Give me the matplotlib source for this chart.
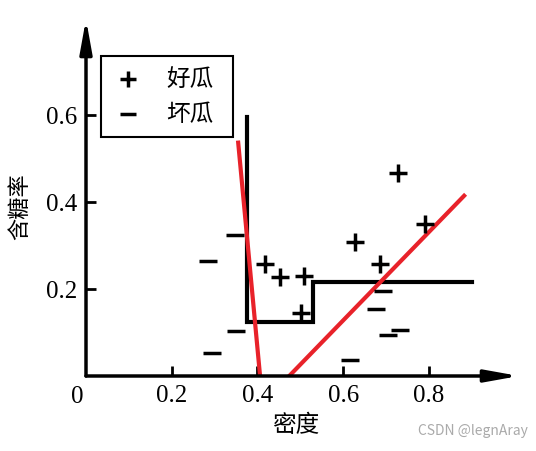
import matplotlib.pyplot as plt
import numpy as np

plt.rcParams['font.family'] = ['Noto Sans CJK SC', 'DejaVu Sans']

# good melons (+) and bad melons (-)
good_density = [0.728, 0.791, 0.628, 0.686, 0.418, 0.453, 0.509, 0.502]
good_sugar = [0.467, 0.349, 0.308, 0.257, 0.257, 0.228, 0.230, 0.145]
bad_density = [0.348, 0.285, 0.350, 0.294, 0.616, 0.693, 0.677, 0.705, 0.733]
bad_sugar = [0.324, 0.264, 0.103, 0.053, 0.037, 0.195, 0.154, 0.094, 0.106]

# decision tree boundary (axis-parallel steps)
step_x = [0.376, 0.376, 0.530, 0.530, 0.901]
step_y = [0.595, 0.124, 0.124, 0.216, 0.216]

# oblique red lines
red1_x = [0.355, 0.406]
red1_y = [0.536, 0.0]
red2_x = [0.474, 0.882]
red2_y = [0.0, 0.414]

ticks = [0.2, 0.4, 0.6, 0.8]
tick_labels = ['0.2', '0.4', '0.6', '0.8']
yticks = [0.2, 0.4, 0.6]
ytick_labels = ['0.2', '0.4', '0.6']

fig = plt.figure(figsize=(5.36, 4.52), dpi=100)
ax = fig.add_axes([86/536, 75/452, 433/536, 357/452])
ax.set_xlim(0, 1.01)
ax.set_ylim(0, 0.82)
for s in ax.spines.values():
    s.set_visible(False)

# axes with arrows
arrow = dict(arrowstyle='-|>,head_length=2.0,head_width=0.36', color='black',
             lw=2.5, mutation_scale=10, shrinkA=0, shrinkB=0)
ax.annotate('', xy=(1.01, 0), xytext=(0, 0), annotation_clip=False, arrowprops=arrow)
ax.annotate('', xy=(0, 0.82), xytext=(0, 0), annotation_clip=False, arrowprops=arrow)

serif = 'Liberation Serif'
ax.set_xticks(ticks)
ax.set_xticklabels(tick_labels, fontfamily=serif, fontsize=18)
ax.set_yticks(yticks)
ax.set_yticklabels(ytick_labels, fontfamily=serif, fontsize=18)
ax.tick_params(direction='in', length=7, width=2, pad=6)
ax.text(-0.02, -0.02, '0', fontfamily=serif, fontsize=18, ha='center', va='top')

ax.plot(step_x, step_y, color='black', lw=3, solid_joinstyle='miter')
ax.plot(red1_x, red1_y, color='#e8222a', lw=3)
ax.plot(red2_x, red2_y, color='#e8222a', lw=3)

ax.plot(good_density, good_sugar, '+', color='black', ms=13, mew=2.5, clip_on=False)
ax.plot(bad_density, bad_sugar, '_', color='black', ms=13, mew=2.5, clip_on=False)

# legend box
leg_x0, leg_y0, leg_x1, leg_y1 = 0.035, 0.548, 0.343, 0.734
ax.add_patch(plt.Rectangle((leg_x0, leg_y0), leg_x1 - leg_x0, leg_y1 - leg_y0,
                           fill=False, lw=1.5, edgecolor='black'))
ax.plot([0.098], [0.683], '+', color='black', ms=12, mew=2.5)
ax.plot([0.098], [0.602], '_', color='black', ms=12, mew=2.5)
ax.text(0.188, 0.683, '好瓜', fontsize=17, va='center')
ax.text(0.188, 0.602, '坏瓜', fontsize=17, va='center')

fig.text(296/536, 1 - 426/452, '密度', fontsize=17, ha='center', va='center')
fig.text(20/536, 1 - 207/452, '含糖率', fontsize=16, rotation=90, ha='center', va='center')

fig.text(0.985, 0.03, 'CSDN @legnAray', fontsize=10, color='#aaaaaa', ha='right', va='bottom')

plt.savefig('out.png', dpi=100)
plt.close()
